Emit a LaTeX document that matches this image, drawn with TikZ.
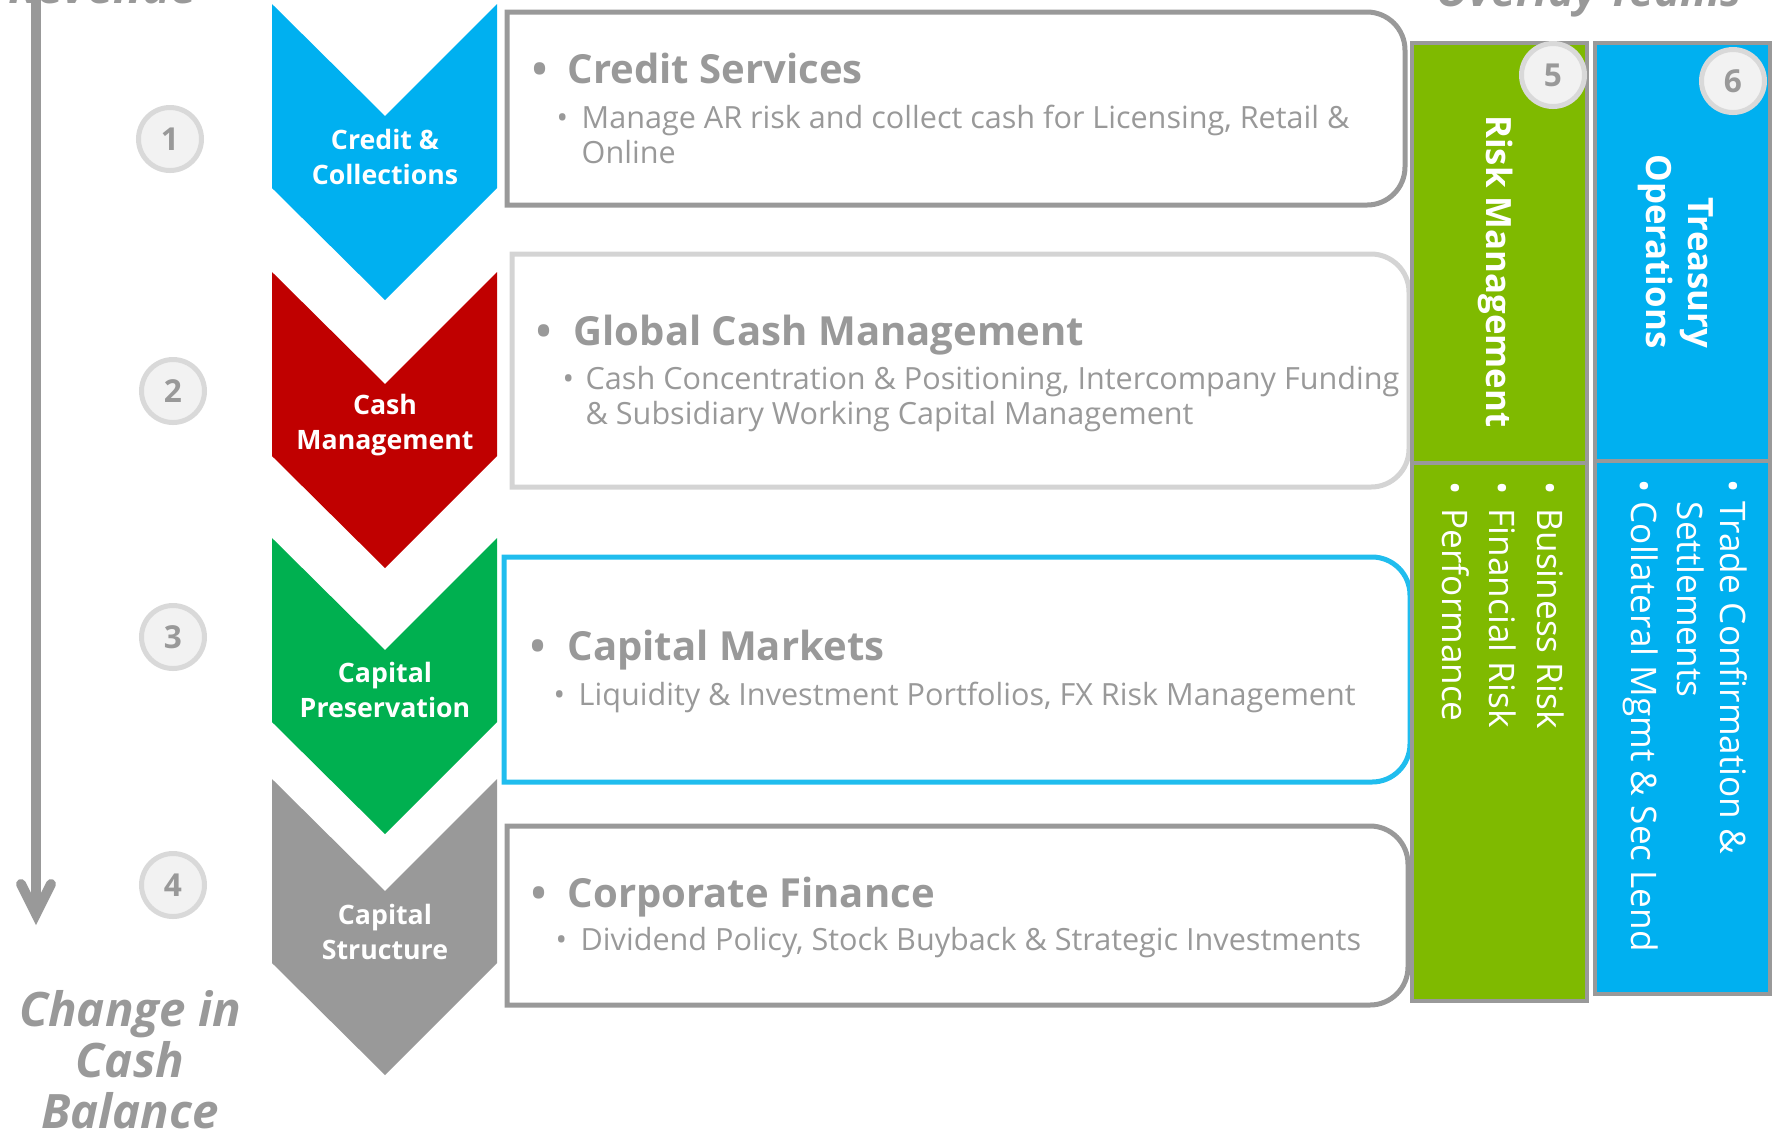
\documentclass[tikz,border=0pt]{standalone}
\usepackage{fontspec}
\setmainfont{Open Sans}

\definecolor{txtgray}{HTML}{999999}
\definecolor{ringgray}{HTML}{D9D9D9}
\definecolor{discgray}{HTML}{F2F2F2}
\definecolor{chevblue}{HTML}{00B0F0}
\definecolor{chevred}{HTML}{C00000}
\definecolor{chevgreen}{HTML}{00B050}
\definecolor{chevgray}{HTML}{999999}
\definecolor{lightframe}{HTML}{D4D4D4}
\definecolor{cyanframe}{HTML}{20BDEE}
\definecolor{riskgreen}{HTML}{7FBA00}

\newcommand{\rbox}[5]{\draw[#1] (#2,#5) -- (#2,#3) -- (#4-38,#3) arc[start angle=90, end angle=0, radius=3.8mm]
    -- (#4,#5-38) arc[start angle=0, end angle=-90, radius=3.8mm] -- cycle;}
\newcommand{\bul}[2][2.5mm]{\makebox[#1][l]{\textbullet}#2}
\newcommand{\txtlines}[2][l]{\begin{tabular}[t]{@{}#1@{}}#2\end{tabular}}

\begin{document}
\begin{tikzpicture}[x=0.1mm, y=-0.1mm,
    numdisc/.style={circle, draw=ringgray, fill=discgray, line width=0.5mm, minimum size=6.3mm, inner sep=0pt,
        text=txtgray, font=\bfseries\fontsize{9}{9}\selectfont},
    chevtext/.style={text=white, align=center, font=\bfseries\fontsize{7.6}{9.7}\selectfont},
    head/.style={anchor=base west, inner sep=0pt, text=txtgray, font=\bfseries\fontsize{11.4}{13}\selectfont},
    body/.style={anchor=base west, inner sep=0pt, text=txtgray, font=\fontsize{8.7}{10}\selectfont},
    frame/.style={line width=0.5mm, fill=white},
    panel/.style={draw=txtgray, line width=0.35mm},
    ptitle/.style={rotate=-90, anchor=base east, inner sep=0pt, text=white, font=\bfseries\fontsize{9.9}{11.7}\selectfont},
    plist/.style={rotate=-90, anchor=base west, inner sep=0pt, text=white, font=\fontsize{10}{12}\selectfont},
    bigtitle/.style={anchor=base, inner sep=0pt, text=txtgray, font=\bfseries\itshape\fontsize{13.5}{14.4}\selectfont},
    flow/.style={draw=txtgray, line width=1mm, line cap=round}]

    \useasboundingbox (0,0) rectangle (1775,1132);

    \node[bigtitle] (revenue) at (103,3) {Revenue};
    \node[bigtitle, font=\bfseries\itshape\fontsize{12.6}{14}\selectfont] (overlay) at (1589,6) {Overlay Teams};
    \node[bigtitle] (cashbal) at (130,1026) {\txtlines[c]{Change in\\Cash\\Balance}};

    \coordinate (revtop) at (36,-20);
    \coordinate (revtip) at (36,914);
    \coordinate (barbl) at (21,884);
    \coordinate (barbr) at (51,884);
    \draw[flow] (revtop) -- (revtip);
    \draw[flow, line join=miter] (barbl) -- (revtip) -- (barbr);

    \foreach \col/\ty in {chevblue/4, chevred/272, chevgreen/538, chevgray/779}
        \fill[\col] (272,\ty) -- (385,\ty+112) -- (497,\ty) -- (497,\ty+184) -- (385,\ty+296) -- (272,\ty+184) -- cycle;

    \node[chevtext] (credcoll) at (385,157) {Credit \&\\Collections};
    \node[chevtext] (cashmgmt) at (385,425) {Cash\\Management};
    \node[chevtext] (cappres) at (385,690) {Capital\\Preservation};
    \node[chevtext] (capstruct) at (385,932) {Capital\\Structure};

    \node[numdisc] (n1) at (170,139) {1};
    \node[numdisc] (n2) at (173,391) {2};
    \node[numdisc] (n3) at (173,637) {3};
    \node[numdisc] (n4) at (173,885) {4};

    \rbox{frame, draw=txtgray}{507}{12}{1405}{205}
    \rbox{frame, draw=lightframe}{512}{254}{1409}{487}
    \rbox{frame, draw=cyanframe}{504}{557}{1410}{782}
    \rbox{frame, draw=txtgray}{507}{826}{1408}{1005}

    \node[head] (credsvc) at (532,83) {\bul[3.5mm]{Credit Services}};
    \node[body] (credtxt) at (556,128) {\bul{\txtlines{Manage AR risk and collect cash for Licensing, Retail \&\\Online}}};
    \node[head] (gcm) at (536,345) {\bul[3.7mm]{Global Cash Management}};
    \node[body] (gcmtxt) at (562,389) {\bul[2.3mm]{\txtlines{Cash Concentration \& Positioning, Intercompany Funding\\\& Subsidiary Working Capital Management}}};
    \node[head] (capmkt) at (530,660) {\bul[3.7mm]{Capital Markets}};
    \node[body] (capmkttxt) at (553,705) {\bul{Liquidity \& Investment Portfolios, FX Risk Management}};
    \node[head] (corpfin) at (531,907) {\bul[3.6mm]{Corporate Finance}};
    \node[body] (corpfintxt) at (555,950) {\bul{Dividend Policy, Stock Buyback \& Strategic Investments}};

    \draw[panel, fill=riskgreen] (1412,43) rectangle (1587,463);
    \draw[panel, fill=riskgreen] (1412,463) rectangle (1587,1001);
    \draw[panel, fill=chevblue] (1595,43) rectangle (1770,461);
    \draw[panel, fill=chevblue] (1595,461) rectangle (1770,994);

    \node[ptitle] (riskmgmt) at (1486,428) {Risk Management};
    \node[ptitle] (treasops) at (1688,349) {\txtlines[r]{Treasury\\Operations}};
    \node[plist, font=\fontsize{10}{13.5}\selectfont] (risklist) at (1537,481)
        {\txtlines{\bul[2.7mm]{Business Risk}\\\bul[2.7mm]{Financial Risk}\\\bul[2.7mm]{Performance}}};
    \node[plist] (opslist) at (1720,479)
        {\txtlines{\bul[2.2mm]{Trade Confirmation \&}\\\hspace*{2.2mm}Settlements\\[0.4mm]\bul[2.2mm]{Collateral Mgmt \& Sec Lend}}};

    \node[numdisc] (n5) at (1553,75) {5};
    \node[numdisc] (n6) at (1733,81) {6};
\end{tikzpicture}
\end{document}
